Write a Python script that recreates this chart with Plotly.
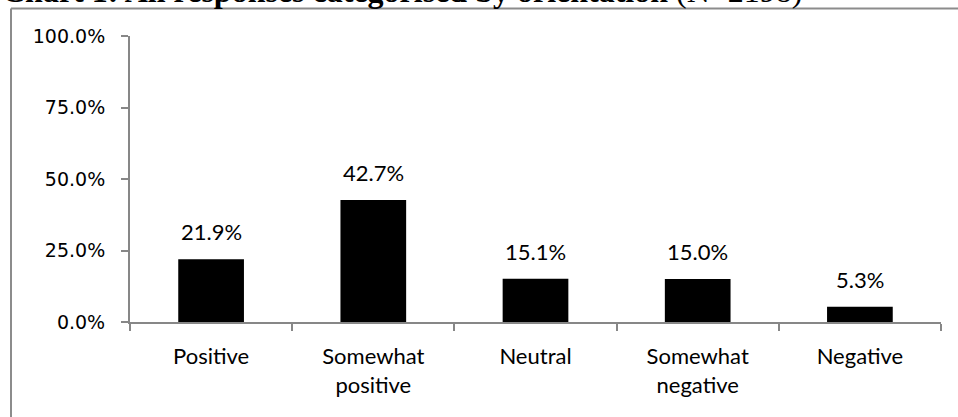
import plotly.graph_objects as go

categories = ["Positive", "Somewhat<br>positive", "Neutral", "Somewhat<br>negative", "Negative"]
values = [0.219, 0.427, 0.151, 0.150, 0.053]
y_ticks = [0, 0.25, 0.5, 0.75, 1.0]
y_tick_labels = ["0.0%", "25.0%", "50.0%", "75.0%", "100.0%"]
title_bold = "Chart 1: All responses categorised by orientation"
title_rest = " (N=2198)"

W, H = 958, 417
L, R, T, B = 130, 17, 36, 95
pw, ph = W - L - R, H - T - B

def px_x(x):
    return (x - L) / pw

def px_y(y):
    return (H - B - y) / ph

AX = "#878787"
LABEL_FONT = "Lato"

fig = go.Figure()
fig.add_trace(go.Bar(
    x=categories, y=values,
    marker=dict(color="#000000", line=dict(width=0)),
    width=0.405,
    hoverinfo="skip",
))

for c, v in zip(categories, values):
    fig.add_annotation(
        x=c, y=v, xref="x", yref="y",
        text=f"{v*100:.1f}%", showarrow=False,
        yanchor="bottom", yshift=12,
        font=dict(family=LABEL_FONT, size=22, color="#000"),
    )

# Title (partially cropped at top, as in the reference)
fig.add_annotation(
    xref="paper", yref="paper", x=px_x(0), y=px_y(11),
    xanchor="left", yanchor="bottom", showarrow=False,
    text=f"<b>{title_bold}</b>{title_rest}",
    font=dict(family="Liberation Serif", size=32, color="#000"),
)

# Outer frame
fig.add_shape(type="line", xref="paper", yref="paper",
              x0=px_x(11), x1=px_x(11), y0=px_y(8.5), y1=px_y(430),
              line=dict(color="#8c8c8c", width=2))
fig.add_shape(type="line", xref="paper", yref="paper",
              x0=px_x(11), x1=px_x(970), y0=px_y(8.5), y1=px_y(8.5),
              line=dict(color="#8c8c8c", width=2))

fig.update_layout(
    width=W, height=H,
    margin=dict(l=L, r=R, t=T, b=B),
    paper_bgcolor="white", plot_bgcolor="white",
    showlegend=False,
    xaxis=dict(
        showline=True, linecolor=AX, linewidth=2,
        ticks="outside", ticklen=7, tickcolor=AX, tickwidth=2,
        tickson="boundaries", showgrid=False,
        tickfont=dict(family=LABEL_FONT, size=22, color="#000"),
        ticklabelstandoff=14,
    ),
    yaxis=dict(
        range=[0, 1], tickvals=y_ticks, ticktext=y_tick_labels,
        showline=True, linecolor=AX, linewidth=2,
        ticks="outside", ticklen=7, tickcolor=AX, tickwidth=2,
        showgrid=False, zeroline=False,
        tickfont=dict(family="DejaVu Sans", size=19, color="#000"),
        ticklabelstandoff=12,
    ),
)

fig.write_html("out.html")
